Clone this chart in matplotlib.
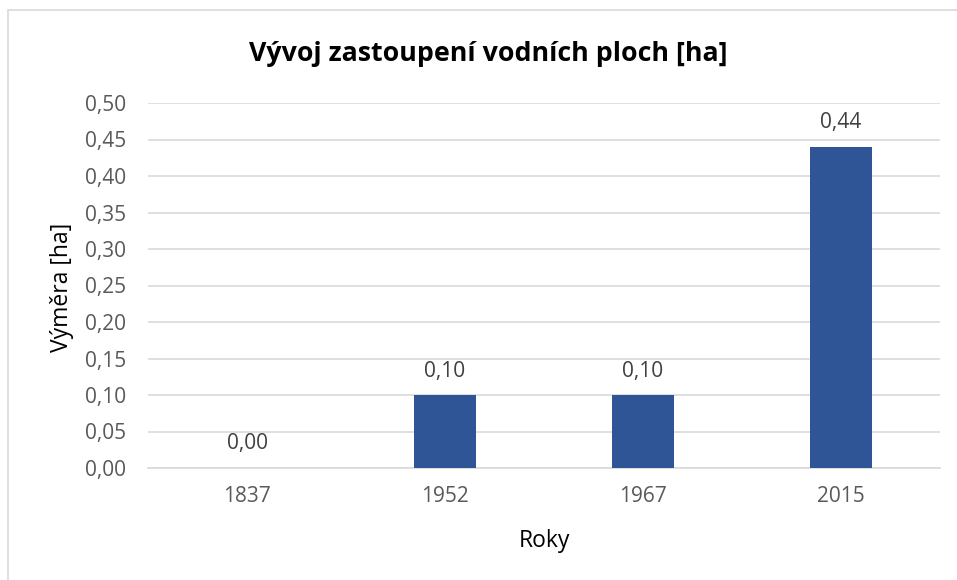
import matplotlib
matplotlib.use("Agg")
import matplotlib.pyplot as plt
from matplotlib.patches import Rectangle

categories = ["1837", "1952", "1967", "2015"]
values = [0.00, 0.10, 0.10, 0.44]
yticks = [0.00, 0.05, 0.10, 0.15, 0.20, 0.25, 0.30, 0.35, 0.40, 0.45, 0.50]
title = "Vývoj zastoupení vodních ploch [ha]"
xlabel = "Roky"
ylabel = "Výměra [ha]"

plt.rcParams['font.family'] = ['Open Sans', 'DejaVu Sans']

W, H = 957, 580
fig = plt.figure(figsize=(W/100, H/100), dpi=100)
fig.patch.set_facecolor("white")

# outer chart border (continues past the right and bottom edges)
fig.patches.append(Rectangle((8/W, -0.2), 1.2, 1.2 - 10/H, transform=fig.transFigure,
                             fill=False, edgecolor="#D9D9D9", linewidth=1.2))

ax = fig.add_axes([148/W, 1-468/H, (940-148)/W, (468-103)/H])
x = list(range(len(categories)))
ax.bar(x, values, width=0.313, color="#2F5597", zorder=3)

ax.set_xlim(-0.5, len(categories)-0.5)
ax.set_ylim(0, 0.5)
ax.set_yticks(yticks)
ax.set_yticklabels([f"{v:.2f}".replace(".", ",") for v in yticks])
ax.set_xticks(x)
ax.set_xticklabels(categories)
ax.grid(axis="y", color="#D9D9D9", linewidth=1.2, zorder=0)
for s in ["top", "right", "left"]:
    ax.spines[s].set_visible(False)
ax.spines["bottom"].set_color("#D9D9D9")
ax.spines["bottom"].set_linewidth(1.2)
ax.tick_params(axis="both", length=0, labelsize=15, labelcolor="#595959")
ax.tick_params(axis="y", pad=16)
ax.tick_params(axis="x", pad=13)

for xi, v in zip(x, values):
    ax.annotate(f"{v:.2f}".replace(".", ","), (xi, v), xytext=(0, 24),
                textcoords="offset pixels", ha="center", va="center",
                fontsize=15, color="#404040")

fig.text(488/W, 1-54/H, title, ha="center", va="center", fontsize=19.3,
         fontweight="bold", color="black")
fig.text(544/W, 1-541/H, xlabel, ha="center", va="center", fontsize=16.5, color="black")
fig.text(62/W, 1-287/H, ylabel, ha="center", va="center", fontsize=16.5,
         rotation=90, color="black")

fig.savefig("out.png", dpi=100, facecolor="white")
